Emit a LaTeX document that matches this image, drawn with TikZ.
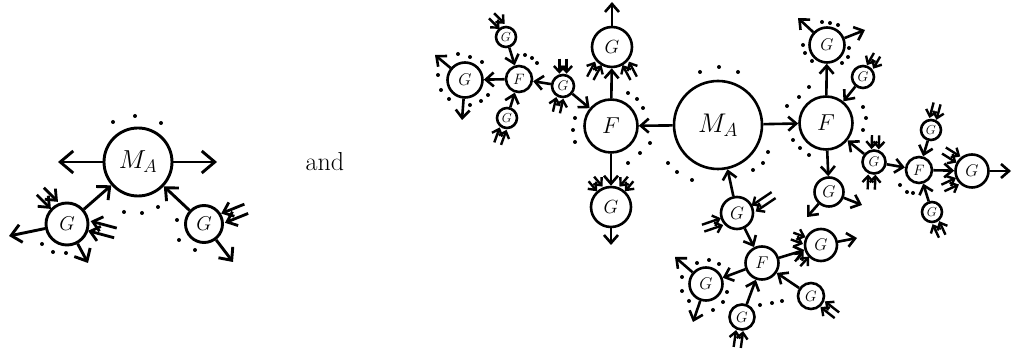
\RequirePackage{fix-cm}
\documentclass[tikz,border=0pt]{standalone}
\usetikzlibrary{arrows.meta,calc}
\tikzset{
  bub/.style={circle,draw,line width=2.6pt,inner sep=0pt,minimum size=#1},
  bubL/.style={circle,draw,line width=2.9pt,inner sep=0pt,minimum size=#1},
  arr/.style={line width=2.6pt,-{Straight Barb[length=8pt,width=14pt]}},
  arrL/.style={line width=2.9pt,-{Straight Barb[length=10pt,width=18pt]}},
  arrXL/.style={line width=2.9pt,-{Straight Barb[length=13pt,width=22pt]}},
  parr/.style={line width=2.4pt,-{Straight Barb[length=6pt,width=11pt]}},
  parrL/.style={line width=2.8pt,-{Straight Barb[length=9pt,width=15pt]}},
}
\newcommand\fs[1]{\fontsize{#1}{#1}\selectfont}
% #1 offset, #2 style, #3 node, #4 anchor angle, #5 direction, #6 length
\newcommand\pairin[6][3.6]{%
  \draw[#2] ($(#3.#4)+(#5:#6)+(#5+90:#1)$) -- ($(#3.#4)+(#5+90:#1)$);
  \draw[#2] ($(#3.#4)+(#5:#6)+(#5-90:#1)$) -- ($(#3.#4)+(#5-90:#1)$);
}
\newcommand\dt[1]{#1 circle[radius=2pt]}
\begin{document}
\begin{tikzpicture}[x=1pt,y=1pt]
\useasboundingbox (0,0) rectangle (1013,358);
% ---------------- left diagram ----------------
\node[bubL=68pt,font=\fs{26}] (MA1) at (138,196) {$M_A$};
\node[bubL=42pt,font=\fs{20}] (GL1) at (67,134) {$G$};
\node[bubL=37pt,font=\fs{20}] (GR1) at (204,134) {$G$};
\coordinate (t1) at (58,196);
\coordinate (t2) at (217,196);
\coordinate (t3) at (9,122);
\coordinate (t4) at (88,95);
\coordinate (t5) at (233,96);
\draw[arrXL] (MA1) -- (t1);
\draw[arrXL] (MA1) -- (t2);
\draw[arrL] (GL1) -- (MA1);
\draw[arrL] (GR1) -- (MA1);
\draw[arrL] (GL1) -- (t3);
\draw[arrL] (GL1) -- (t4);
\draw[arrL] (GR1) -- (t5);
\pairin[5]{parrL}{GL1}{124}{135}{20}
\pairin[5]{parrL}{GL1}{355}{345}{27}
\pairin[5]{parrL}{GR1}{17}{22}{25}
\fill \dt{(113,236)} \dt{(135,242)} \dt{(161,235)}
      \dt{(124,146)} \dt{(142,145)} \dt{(158,151)}
      \dt{(42,114)} \dt{(53,106)} \dt{(66,105)}
      \dt{(177,138)} \dt{(179,118)} \dt{(195,108)};
\node[font=\fs{26}] (and) at (325,196) {and};
% ---------------- right diagram ----------------
\node[bub=88pt,font=\fs{27}] (MA2) at (718,233) {$M_A$};
\node[bub=53pt,font=\fs{23}] (FL) at (611,232) {$F$};
\node[bub=53pt,font=\fs{23}] (FR) at (826,235) {$F$};
\node[bub=40pt,font=\fs{19}] (GTL) at (612,311) {$G$};
\node[bub=40pt,font=\fs{19}] (GBL) at (611,151) {$G$};
\node[bub=22pt,font=\fs{14}] (GSL) at (563,272) {$G$};
\node[bub=26pt,font=\fs{15}] (FSL) at (519,279) {$F$};
\node[bub=35pt,font=\fs{17}] (GFL) at (465,278) {$G$};
\node[bub=20pt,font=\fs{13}] (GSLa) at (506,321) {$G$};
\node[bub=20pt,font=\fs{13}] (GSLb) at (507,240) {$G$};
\node[bub=32pt,font=\fs{18}] (GBM) at (737,145) {$G$};
\node[bub=33pt,font=\fs{17}] (FB) at (762,95) {$F$};
\node[bub=32pt,font=\fs{17}] (GFB1) at (821,113) {$G$};
\node[bub=33pt,font=\fs{17}] (GFB2) at (706,74) {$G$};
\node[bub=25pt,font=\fs{15}] (GFB3) at (742,41) {$G$};
\node[bub=26pt,font=\fs{15}] (GFB4) at (811,62) {$G$};
\node[bub=35pt,font=\fs{17}] (GTR) at (827,313) {$G$};
\node[bub=22pt,font=\fs{14}] (GSR1) at (863,281) {$G$};
\node[bub=29pt,font=\fs{17}] (GBR) at (829,166) {$G$};
\node[bub=23pt,font=\fs{14}] (GSR2) at (874,196) {$G$};
\node[bub=26pt,font=\fs{15}] (FSR) at (919,188) {$F$};
\node[bub=20pt,font=\fs{13}] (GSR3) at (931,228) {$G$};
\node[bub=20pt,font=\fs{13}] (GSR4) at (932,146) {$G$};
\node[bub=33pt,font=\fs{17}] (GFR) at (972,187) {$G$};
% connectors
\draw[arr] (MA2) -- (FL);
\draw[arr] (MA2) -- (FR);
\draw[arr] (FL) -- (GTL);
\draw[arr] (FL) -- (GBL);
\draw[arr] (GSL) -- (FL);
\draw[arr] (GSL) -- (FSL);
\draw[arr] (FSL) -- (GFL);
\draw[arr] (GSLa) -- (FSL);
\draw[arr] (GSLb) -- (FSL);
\draw[arr] (GBM) -- (MA2);
\draw[arr] (GBM) -- (FB);
\draw[arr] (FB) -- (GFB1);
\draw[arr] (FB) -- (GFB2);
\draw[arr] (GFB3) -- (FB);
\draw[arr] (GFB4) -- (FB);
\draw[arr] (FR) -- (GTR);
\draw[arr] (GSR1) -- (FR);
\draw[arr] (FR) -- (GBR);
\draw[arr] (GSR2) -- (FR);
\draw[arr] (GSR2) -- (FSR);
\draw[arr] (GSR3) -- (FSR);
\draw[arr] (GSR4) -- (FSR);
\draw[arr] (FSR) -- (GFR);
% outgoing legs
\coordinate (o1) at (612,356);
\coordinate (o2) at (611,113);
\coordinate (o3) at (435,303);
\coordinate (o4) at (462,238);
\coordinate (o5) at (857,120);
\coordinate (o6) at (675,101);
\coordinate (o7) at (693,36);
\coordinate (o8) at (798,340);
\coordinate (o9) at (865,328);
\coordinate (o10) at (807,141);
\coordinate (o11) at (862,153);
\coordinate (o12) at (1011,187);
\draw[arr] (GTL) -- (o1);
\draw[arr] (GBL) -- (o2);
\draw[arr] (GFL) -- (o3);
\draw[arr] (GFL) -- (o4);
\draw[arr] (GFB1) -- (o5);
\draw[arr] (GFB2) -- (o6);
\draw[arr] (GFB2) -- (o7);
\draw[arr] (GTR) -- (o8);
\draw[arr] (GTR) -- (o9);
\draw[arr] (GBR) -- (o10);
\draw[arr] (GBR) -- (o11);
\draw[arr] (GFR) -- (o12);
% incoming pairs
\pairin{parr}{GTL}{230}{242}{17}
\pairin{parr}{GTL}{310}{298}{17}
\pairin{parr}{GBL}{122}{130}{13}
\pairin{parr}{GBL}{58}{50}{13}
\pairin{parr}{GSL}{90}{90}{15}
\pairin{parr}{GSL}{255}{257}{15}
\pairin{parr}{GSLa}{110}{135}{15}
\pairin{parr}{GSLb}{250}{250}{16}
\pairin{parr}{GBM}{15}{34}{24}
\pairin{parr}{GBM}{210}{199}{20}
\pairin{parr}{GFB1}{165}{160}{13}
\pairin{parr}{GFB1}{212}{228}{13}
\pairin{parr}{GFB3}{260}{262}{17}
\pairin{parr}{GFB4}{325}{322}{18}
\pairin{parr}{GSR1}{55}{60}{14}
\pairin{parr}{GSR2}{85}{88}{14}
\pairin{parr}{GSR2}{260}{268}{15}
\pairin{parr}{GSR3}{80}{75}{16}
\pairin{parr}{GSR4}{290}{295}{15}
\pairin{parr}{GFR}{140}{148}{17}
\pairin{parr}{GFR}{215}{205}{16}
% dots
\fill \dt{(458,304)} \dt{(470,301)} \dt{(482,296)}
      \dt{(438,283)} \dt{(441,268)} \dt{(449,259)}
      \dt{(470,253)} \dt{(481,257)} \dt{(488,263)}
      \dt{(525,303)} \dt{(532,300)} \dt{(537,295)}
      \dt{(628,265)} \dt{(637,259)} \dt{(643,250)}
      \dt{(650,215)} \dt{(640,205)} \dt{(628,195)}
      \dt{(575,240)} \dt{(573,228)} \dt{(575,216)}
      \dt{(700,286)} \dt{(719,291)} \dt{(738,286)}
      \dt{(668,195)} \dt{(677,186)} \dt{(692,178)}
      \dt{(768,206)} \dt{(763,195)} \dt{(753,188)}
      \dt{(697,95)} \dt{(709,98)} \dt{(719,94)}
      \dt{(682,81)} \dt{(682,67)} \dt{(689,57)}
      \dt{(727,66)} \dt{(723,56)} \dt{(713,48)}
      \dt{(760,53)} \dt{(772,55)} \dt{(782,57)}
      \dt{(822,336)} \dt{(830,335)} \dt{(838,333)}
      \dt{(803,313)} \dt{(805,305)} \dt{(812,297)}
      \dt{(849,310)} \dt{(848,301)} \dt{(842,295)}
      \dt{(787,252)} \dt{(799,261)} \dt{(809,271)}
      \dt{(863,251)} \dt{(866,240)} \dt{(863,228)}
      \dt{(793,218)} \dt{(800,210)} \dt{(809,203)}
      \dt{(900,173)} \dt{(907,166)} \dt{(913,165)};
\end{tikzpicture}
\end{document}
